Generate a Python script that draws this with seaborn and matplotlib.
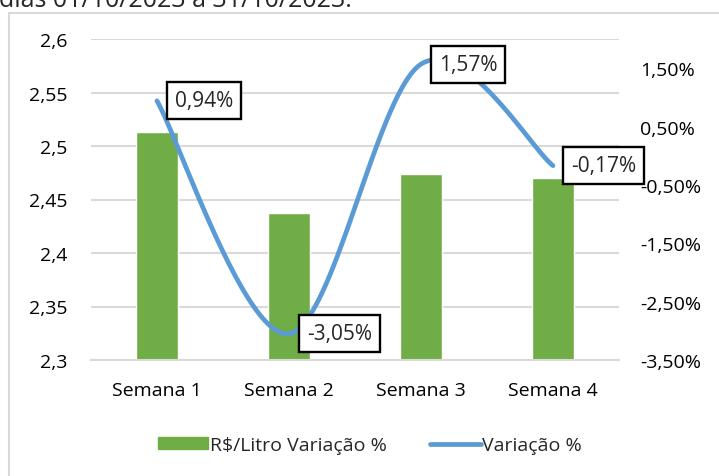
import numpy as np
import pandas as pd
import matplotlib
matplotlib.use('Agg')
import matplotlib.pyplot as plt
import seaborn as sns
from matplotlib.patches import Rectangle, Patch
from matplotlib.lines import Line2D

sns.set_theme(style='white')
plt.rcParams['font.family'] = ['Open Sans', 'DejaVu Sans']

# data
semanas = ['Semana 1', 'Semana 2', 'Semana 3', 'Semana 4']
preco_litro = [2.513, 2.437, 2.474, 2.470]
variacao = [0.94, -3.05, 1.57, -0.17]
variacao_labels = ['0,94%', '-3,05%', '1,57%', '-0,17%']

left_ticks = [2.3, 2.35, 2.4, 2.45, 2.5, 2.55, 2.6]
left_labels = ['2,3', '2,35', '2,4', '2,45', '2,5', '2,55', '2,6']
right_ticks = [-3.5, -2.5, -1.5, -0.5, 0.5, 1.5]
right_labels = ['-3,50%', '-2,50%', '-1,50%', '-0,50%', '0,50%', '1,50%']

GREEN = '#70AD47'
BLUE = '#5B9BD5'
FS = 14


def excel_smooth(xs, ys, n=40):
    # bezier smoothing like Excel's "smoothed line"
    px = [xs[0]] + list(xs) + [xs[-1]]
    py = [ys[0]] + list(ys) + [ys[-1]]
    out_x, out_y = [], []
    t = np.linspace(0, 1, n)
    for i in range(1, len(px) - 2):
        p0 = np.array([px[i], py[i]])
        p3 = np.array([px[i + 1], py[i + 1]])
        c1 = p0 + (np.array([px[i + 1], py[i + 1]]) - np.array([px[i - 1], py[i - 1]])) / 6
        c2 = p3 - (np.array([px[i + 2], py[i + 2]]) - np.array([px[i], py[i]])) / 6
        pts = ((1 - t) ** 3)[:, None] * p0 + (3 * (1 - t) ** 2 * t)[:, None] * c1 \
            + (3 * (1 - t) * t ** 2)[:, None] * c2 + (t ** 3)[:, None] * p3
        out_x.extend(pts[:, 0])
        out_y.extend(pts[:, 1])
    return out_x, out_y


df = pd.DataFrame({'Semana': semanas, 'Preco': preco_litro, 'Variacao': variacao})

fig = plt.figure(figsize=(7.19, 4.77), dpi=100)
ax = fig.add_axes([91 / 719, 1 - 361 / 477, 528 / 719, 321 / 477])

# outer chart frame (partially outside the image)
fig.patches.append(Rectangle((9 / 719, -0.2), 1.2, 1 - 14 / 477 + 0.2, transform=fig.transFigure,
                             fill=False, ec='#d9d9d9', lw=1.5))
fig.text(-0.002, 1 - 7 / 477, 'dias 01/10/2023 a 31/10/2023.', fontsize=18, va='baseline', ha='left')

sns.barplot(data=df, x='Semana', y='Preco', color=GREEN, width=0.32, saturation=1, ax=ax, zorder=2)
ax.set_ylim(2.3, 2.6)
ax.set_xlim(-0.5, 3.5)
ax.set_yticks(left_ticks)
ax.set_yticklabels(left_labels)
ax.yaxis.grid(True, color='#d9d9d9', lw=1.5, zorder=0)
ax.set_axisbelow(True)
for s in ax.spines.values():
    s.set_visible(False)
ax.spines['bottom'].set_visible(True)
ax.spines['bottom'].set_color('#d9d9d9')
ax.spines['bottom'].set_linewidth(1.5)
ax.set_xlabel('')
ax.set_ylabel('')
ax.tick_params(axis='both', length=0, labelsize=FS, colors='black')
ax.tick_params(axis='y', pad=17)
ax.tick_params(axis='x', pad=15)

ax2 = ax.twinx()
ax2.set_ylim(-3.5, 2.0)
ax2.set_yticks(right_ticks)
ax2.set_yticklabels(right_labels)
ax2.tick_params(axis='y', length=0, labelsize=FS, colors='black', pad=15)
for s in ax2.spines.values():
    s.set_visible(False)

sx, sy = excel_smooth(np.arange(len(variacao)), variacao)
ax2.plot(sx, sy, color=BLUE, lw=3.4, solid_capstyle='round', zorder=3)

for i, (v, lab) in enumerate(zip(variacao, variacao_labels)):
    ax2.annotate(lab, xy=(i, v), xytext=(13, 0), textcoords='offset points', ha='left', va='center',
                 fontsize=15, zorder=5,
                 bbox=dict(boxstyle='square,pad=0.38', fc='white', ec='black', lw=1.7))

handles = [Patch(color=GREEN, label='R$/Litro Variação %'),
           Line2D([0], [0], color=BLUE, lw=3.4, label='Variação %')]
fig.legend(handles=handles, loc='center', bbox_to_anchor=(370 / 719, 1 - 446 / 477), ncol=2,
           frameon=False, fontsize=FS, handlelength=2.6, handleheight=0.55, handletextpad=0.1,
           columnspacing=2.2)

fig.savefig('out.png', dpi=100)
